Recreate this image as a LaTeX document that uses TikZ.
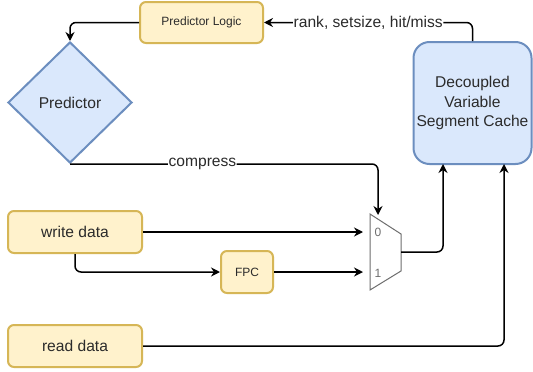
\documentclass[tikz,border=0pt]{standalone}
\usepackage{fontspec}
\setmainfont{Liberation Sans}
\usetikzlibrary{arrows.meta,shapes.geometric}

\definecolor{yfill}{HTML}{FFF2CC}
\definecolor{ydraw}{HTML}{D6B656}
\definecolor{bfill}{HTML}{DAE8FC}
\definecolor{bdraw}{HTML}{6C8EBF}
\definecolor{txt}{HTML}{2B2B2B}
\definecolor{muxgray}{HTML}{6E6E6E}

\newcommand{\bigtxt}{\fontsize{15.6}{19.5}\selectfont}
\newcommand{\smalltxt}{\fontsize{12}{14}\selectfont}

\tikzset{
  ybox/.style={draw=ydraw, fill=yfill, line width=2pt, rounded corners=6pt,
    text=txt, inner sep=0pt},
  bshape/.style={draw=bdraw, fill=bfill, line width=2pt, text=txt, inner sep=0pt},
  conn/.style={line width=1.5pt, rounded corners=6pt,
    -{Stealth[length=9pt,width=9pt,inset=3pt]}},
  lbl/.style={fill=white, inner sep=0.5pt, text=txt, font=\bigtxt},
}

\begin{document}
\begin{tikzpicture}[x=1pt,y=-1pt]
\useasboundingbox[fill=white] (0,0) rectangle (533,372);

% blocks
\node[ybox, minimum width=123pt, minimum height=41pt, font=\smalltxt]
  (plogic) at (201.5,22.5) {Predictor Logic};
\node[bshape, diamond, minimum width=124pt, minimum height=121pt, font=\bigtxt]
  (pred) at (70,102.5) {Predictor};
\node[bshape, rounded corners=16pt, minimum width=118pt, minimum height=122pt,
  align=center, font=\bigtxt]
  (cache) at (472.5,103) {Decoupled\\Variable\\Segment Cache};
\node[ybox, minimum width=134pt, minimum height=42pt, font=\bigtxt]
  (wdata) at (75,232) {write data};
\node[ybox, minimum width=52pt, minimum height=42pt, font=\smalltxt]
  (fpc) at (247,272) {FPC};
\node[ybox, minimum width=134pt, minimum height=42pt, font=\bigtxt]
  (rdata) at (75,346) {read data};

% multiplexer
\draw[muxgray, line width=1pt] (370,214) -- (401,234) -- (401,271) -- (370,290) -- cycle;
\node[text=muxgray, font=\fontsize{12}{13}\selectfont] (sel0) at (378,232) {0};
\node[text=muxgray, font=\fontsize{12}{13}\selectfont] (sel1) at (378,273) {1};
\coordinate (muxtop) at (378,215);
\coordinate (muxin0) at (363,232);
\coordinate (muxin1) at (363,272);
\coordinate (muxout) at (401,252);
\coordinate (cachein0) at (443,164);
\coordinate (cachein1) at (504,164);

% connectors
\draw[conn] (plogic.west) -| (pred.north);
\draw[conn] (cache.north) |- node[lbl, pos=0.75] {rank, setsize, hit/miss} (plogic.east);
\draw[conn] (pred.south) -| node[lbl, pos=0.215] {compress} (muxtop);
\draw[conn] (wdata.east) -- (muxin0);
\draw[conn] (wdata.south) |- (fpc.west);
\draw[conn] (fpc.east) -- (muxin1);
\draw[conn] (muxout) -| (cachein0);
\draw[conn] (rdata.east) -| (cachein1);
\end{tikzpicture}
\end{document}
